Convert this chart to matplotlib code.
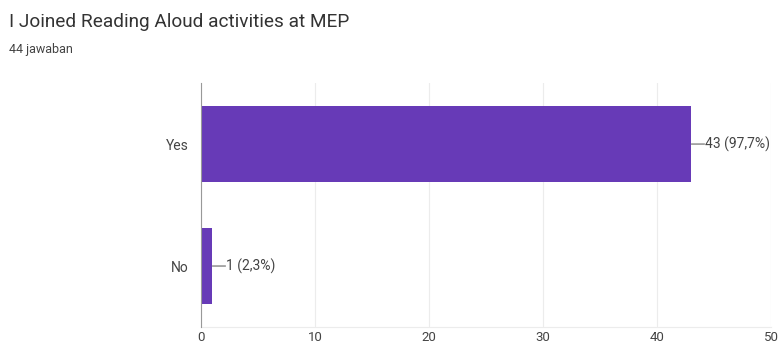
import matplotlib.pyplot as plt

# data
categories = ["Yes", "No"]
counts = [43, 1]
total = 44
title = "I Joined Reading Aloud activities at MEP"
subtitle = "44 jawaban"

plt.rcParams['font.family'] = ['Roboto', 'DejaVu Sans']

fig = plt.figure(figsize=(7.79, 3.49), dpi=100)
ax = fig.add_axes([0.258, 0.063, 0.732, 0.699])

ypos = list(range(len(categories)))
ax.barh(ypos, counts, height=0.62, color="#673ab7", zorder=3)

ax.set_xlim(0, 50)
ax.set_ylim(1.5, -0.5)
ax.set_xticks([0, 10, 20, 30, 40, 50])
ax.set_yticks(ypos)
ax.set_yticklabels(categories)
ax.tick_params(axis="both", length=0, labelsize=9.5, colors="#444444")
ax.tick_params(axis="y", pad=9, labelsize=10)
ax.tick_params(axis="x", pad=3)

ax.grid(axis="x", color="#ececec", linewidth=0.8, zorder=0)
for s in ["top", "right"]:
    ax.spines[s].set_visible(False)
ax.spines["bottom"].set_color("#ececec")
ax.spines["left"].set_color("#999999")
ax.spines["left"].set_zorder(4)

for y, c in zip(ypos, counts):
    pct = f"{c / total * 100:.1f}".replace(".", ",")
    ax.annotate("", xy=(c, y), xytext=(c + 1.15, y),
                arrowprops=dict(arrowstyle="-", color="#666666", lw=0.8,
                                shrinkA=0, shrinkB=0))
    ax.text(c + 1.2, y, f"{c} ({pct}%)", va="center", ha="left",
            fontsize=10, color="#444444")

fig.text(0.011, 0.937, title, fontsize=13.7, color="#333333", va="center")
fig.text(0.011, 0.857, subtitle, fontsize=9, color="#444444", va="center")

fig.savefig("out.png", dpi=100)
